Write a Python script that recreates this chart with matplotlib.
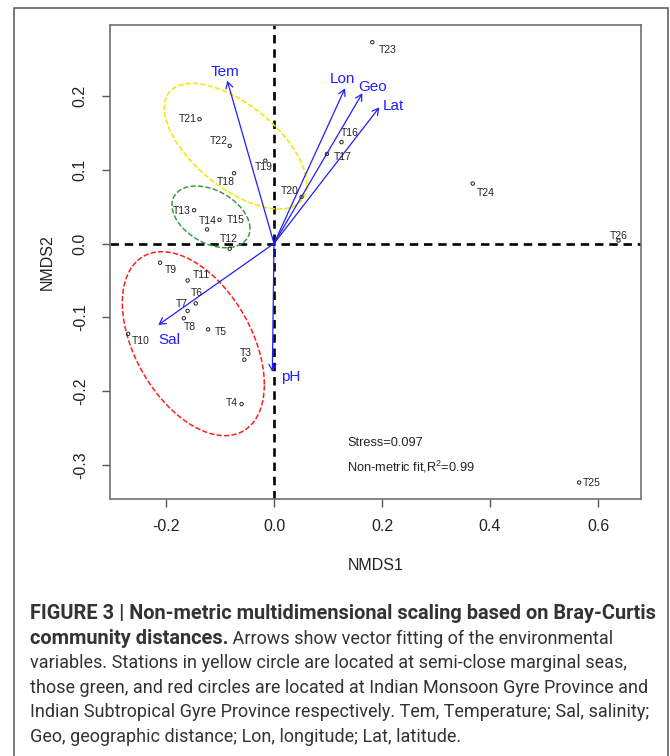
import numpy as np
import matplotlib
matplotlib.use("Agg")
import matplotlib.pyplot as plt
from matplotlib.patches import Rectangle

plt.rcParams['font.family'] = ['Liberation Sans', 'DejaVu Sans']
plt.rcParams['mathtext.fontset'] = 'custom'
plt.rcParams['mathtext.rm'] = 'Liberation Sans'
plt.rcParams['mathtext.it'] = 'Liberation Sans'

# station scores from metaMDS
stations = ['T3', 'T4', 'T5', 'T6', 'T7', 'T8', 'T9', 'T10', 'T11', 'T12', 'T13', 'T14',
            'T15', 'T16', 'T17', 'T18', 'T19', 'T20', 'T21', 'T22', 'T23', 'T24', 'T25', 'T26']
nmds1 = [-0.055, -0.060, -0.122, -0.145, -0.160, -0.167, -0.211, -0.270, -0.160, -0.082, -0.148, -0.124,
         -0.101, 0.125, 0.098, -0.074, -0.016, 0.051, -0.138, -0.082, 0.182, 0.368, 0.565, 0.638]
nmds2 = [-0.157, -0.217, -0.116, -0.081, -0.091, -0.101, -0.026, -0.122, -0.050, -0.007, 0.045, 0.019,
         0.032, 0.137, 0.121, 0.095, 0.112, 0.063, 0.168, 0.132, 0.272, 0.081, -0.323, 0.004]
# where each station name sits relative to its point (pixels)
label_nudge = [(2, 7), (-10, 1), (13, -3), (1, 10), (-6, 7), (6, -9), (11, -7), (13, -7), (14, 6), (-1, 10),
               (-12, -1), (1, 8), (16, 0), (8, 9), (16, -3), (-8, -9), (-2, -6), (-12, 6), (-12, 0), (-11, 5),
               (15, -8), (13, -9), (13, 0), (0, 5)]

# envfit vectors
env_names = ['Tem', 'Lon', 'Geo', 'Lat', 'Sal', 'pH']
env_nmds1 = [-0.0865, 0.1315, 0.1636, 0.195, -0.2143, -0.0031]
env_nmds2 = [0.220, 0.2097, 0.203, 0.184, -0.1101, -0.1735]
env_nudge = [(-2, 9), (-3, 9), (10, 6), (14, 1), (11, -15), (18, -5)]

# group ellipses: centre and covariance
ell_colors = ['#f3e600', '#3f9b3f', '#ff1f1f']
ell_cx = [-0.0713, -0.1167, -0.1494]
ell_cy = [0.1315, 0.0360, -0.1354]
ell_sxx = [0.017383, 0.005216, 0.017288]
ell_syy = [0.007213, 0.001738, 0.015457]
ell_sxy = [-0.006827, -0.001151, -0.007252]

stress = 0.097
r2 = 0.99

fig = plt.figure(figsize=(6.7, 7.56), dpi=100)
fig.add_artist(Rectangle((14 / 670, -0.05), (667.5 - 14) / 670, 1.05 - 8.3 / 756,
                         transform=fig.transFigure, fill=False, edgecolor='#555555', lw=1.1))

ax = fig.add_axes([110 / 670, 1 - 499.3 / 756, (640.7 - 110) / 670, (499.3 - 25) / 756])
ax.set_xlim(-0.3037, 0.679)
ax.set_ylim(-0.3457, 0.2953)

ax.axhline(0, color='black', lw=1.9, ls=(0, (3.2, 2.2)), zorder=1)
ax.axvline(0, color='black', lw=1.9, ls=(0, (3.2, 2.2)), zorder=1)

t = np.linspace(0, 2 * np.pi, 300)
for i in range(len(ell_colors)):
    cov = np.array([[ell_sxx[i], ell_sxy[i]], [ell_sxy[i], ell_syy[i]]])
    L = np.linalg.cholesky(cov)
    pts = L @ np.vstack([np.cos(t), np.sin(t)])
    ax.plot(ell_cx[i] + pts[0], ell_cy[i] + pts[1], color=ell_colors[i], lw=1.1,
            ls=(0, (3.5, 1.4)), zorder=2)

ax.scatter(nmds1, nmds2, s=6, facecolors='none', edgecolors='#222222', linewidths=0.7, zorder=4)
for name, x, y, (dx, dy) in zip(stations, nmds1, nmds2, label_nudge):
    ax.annotate(name, (x, y), xytext=(dx, dy), textcoords='offset pixels', ha='center', va='center',
                fontsize=7.5, color='#222222', zorder=5)

for name, x, y, (dx, dy) in zip(env_names, env_nmds1, env_nmds2, env_nudge):
    ax.annotate('', xy=(x, y), xytext=(0, 0),
                arrowprops=dict(arrowstyle='->,head_length=0.5,head_width=0.28', color='#1f1fff',
                                lw=0.9, shrinkA=0, shrinkB=0, mutation_scale=9), zorder=3)
    ax.annotate(name, (x, y), xytext=(dx, dy), textcoords='offset pixels', ha='center', va='center',
                fontsize=11, color='#1f1fff', zorder=5)

ax.text(0.1357, -0.270, f'Stress={stress}', fontsize=9.2, color='#222222', va='center', ha='left')
ax.text(0.1357, -0.3016, f'Non-metric fit,R$^2$={r2}', fontsize=9.2, color='#222222', va='center', ha='left')

ax.set_xticks([-0.2, 0.0, 0.2, 0.4, 0.6])
ax.set_yticks([-0.3, -0.2, -0.1, 0.0, 0.1, 0.2])
ax.set_xticklabels(['-0.2', '0.0', '0.2', '0.4', '0.6'])
ax.set_yticklabels(['-0.3', '-0.2', '-0.1', '0.0', '0.1', '0.2'])
ax.tick_params(length=6, width=1.0, color='#555555', labelsize=11.5, labelcolor='#222222')
ax.tick_params(axis='x', pad=8)
ax.tick_params(axis='y', pad=10)
for lab in ax.get_yticklabels():
    lab.set_rotation(90)
    lab.set_va('center')
for sp in ax.spines.values():
    sp.set_color('#707070')
    sp.set_linewidth(1.2)

fig.text((110 + 640.7) / 2 / 670, 1 - 565.7 / 756, 'NMDS1', fontsize=11.5, color='#222222',
         ha='center', va='center')
fig.text(47 / 670, 1 - 262 / 756, 'NMDS2', fontsize=11.5, color='#222222',
         ha='center', va='center', rotation=90)

# caption
cap_lines = [
    [("FIGURE 3 | Non-metric multidimensional scaling based on Bray-Curtis", 'bold')],
    [("community distances.", 'bold'), (" Arrows show vector fitting of the environmental", 'normal')],
    [("variables. Stations in yellow circle are located at semi-close marginal seas,", 'normal')],
    [("those green, and red circles are located at Indian Monsoon Gyre Province and", 'normal')],
    [("Indian Subtropical Gyre Province respectively. Tem, Temperature; Sal, salinity;", 'normal')],
    [("Geo, geographic distance; Lon, longitude; Lat, latitude.", 'normal')],
]
cap_font = ['Roboto', 'DejaVu Sans']
renderer = fig.canvas.get_renderer()

def width_px(s, weight, size):
    tt = fig.text(0, 0, s, fontsize=size, fontweight=weight, family=cap_font)
    w = tt.get_window_extent(renderer).width
    tt.remove()
    return w

bold_size = 12 * 625 / width_px(cap_lines[0][0][0], 'bold', 12)
reg_size = 12 * 594 / width_px(cap_lines[2][0][0], 'normal', 12)

for i, line in enumerate(cap_lines):
    x = 30.0
    y = 1 - (619.3 + i * 24.5) / 756
    for s, weight in line:
        size = bold_size if weight == 'bold' else reg_size
        tt = fig.text(x / 670, y, s, fontsize=size, fontweight=weight, family=cap_font,
                      color='#333333', va='baseline', ha='left')
        x += tt.get_window_extent(renderer).width

fig.savefig('out.png', dpi=100)
